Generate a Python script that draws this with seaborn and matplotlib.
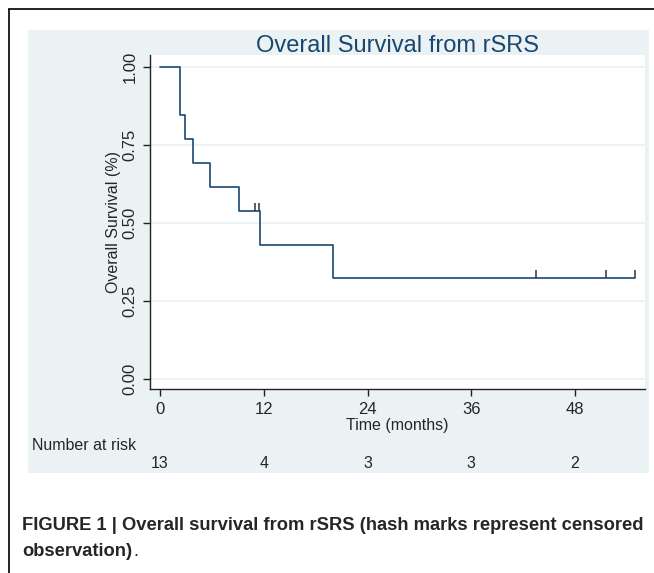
import matplotlib
matplotlib.use('Agg')
import matplotlib.pyplot as plt
import matplotlib.patches as mpatches
import seaborn as sns
import pandas as pd

# Kaplan-Meier steps
step_times = [0, 2.3, 2.9, 3.8, 5.8, 9.1, 11.6, 20.0, 54.9]
step_surv = [1.0, 0.846, 0.769, 0.692, 0.615, 0.538, 0.431, 0.323, 0.323]
censor_times = [10.95, 11.4, 43.5, 51.6, 54.9]
censor_surv = [0.538, 0.538, 0.323, 0.323, 0.323]
risk_times = [0, 12, 24, 36, 48]
at_risk = [13, 4, 3, 3, 2]
y_ticks = [0.0, 0.25, 0.5, 0.75, 1.0]
y_labels = ['0.00', '0.25', '0.50', '0.75', '1.00']

NAVY = '#1a476f'
PANEL = '#eaf2f3'

sns.set_style('white')
plt.rcParams['font.family'] = ['Liberation Sans', 'DejaVu Sans']

W, H = 654, 573
fig = plt.figure(figsize=(W / 100, H / 100), dpi=100)

def fx(px):
    return px / W

def fy(py):
    return 1 - py / H

# outer border (left and top lines) and light panel
fig.add_artist(plt.Line2D([fx(9), fx(9)], [fy(9), 0], color='black', lw=1.2))
fig.add_artist(plt.Line2D([fx(9), 1], [fy(9), fy(9)], color='black', lw=1.2))
fig.add_artist(mpatches.Rectangle((fx(27.5), fy(473)), fx(649) - fx(27.5), fy(30) - fy(473),
                                  facecolor=PANEL, edgecolor='none', zorder=0))

ax = fig.add_axes([fx(150), fy(389), fx(645) - fx(150), fy(55) - fy(389)])
ax.set_facecolor('white')

df = pd.DataFrame({'time': step_times, 'surv': step_surv})
sns.lineplot(data=df, x='time', y='surv', drawstyle='steps-post', estimator=None,
             sort=False, color=NAVY, linewidth=1.2, ax=ax, zorder=3)
ax.plot(censor_times, censor_surv, linestyle='none', marker=2, markersize=6,
        markeredgewidth=1.1, color='#333333', zorder=4)

ax.set_xlim(-1.16, 56.1)
ax.set_ylim(-0.031, 1.038)
ax.set_xticks(risk_times)
ax.set_yticks(y_ticks)
ax.set_yticklabels(y_labels, rotation=90, va='center')
for y in y_ticks:
    ax.axhline(y, color=PANEL, lw=1.3, zorder=1)

for side in ['top', 'right']:
    ax.spines[side].set_visible(False)
for side in ['left', 'bottom']:
    ax.spines[side].set_color('#222222')
    ax.spines[side].set_linewidth(1.0)
ax.tick_params(axis='both', direction='out', length=5, width=1.0, color='#222222',
               labelsize=12, pad=4, left=True, bottom=True)

ax.set_xlabel('Time (months)', fontsize=11.5, labelpad=1)
ax.set_ylabel('Overall Survival (%)', fontsize=11.5, labelpad=1)
ax.set_title('Overall Survival from rSRS', fontsize=17, color=NAVY, pad=2)

fig.text(fx(32), fy(446), 'Number at risk', fontsize=11.5, ha='left', va='center')
for t, n in zip(risk_times, at_risk):
    fig.text(fx(160 + t * 8.646), fy(464), str(n), fontsize=11.5, ha='center', va='center')

fig.text(fx(22), fy(526), 'FIGURE 1 | Overall survival from rSRS (hash marks represent censored',
         fontsize=13.2, fontweight='bold', ha='left', va='center')
obs = fig.text(fx(22), fy(552), 'observation)', fontsize=13.2, fontweight='bold',
               ha='left', va='center')
fig.canvas.draw()
bb = obs.get_window_extent(renderer=fig.canvas.get_renderer())
fig.text(bb.x1 / W + fx(1), fy(552), '.', fontsize=13.2, ha='left', va='center')

fig.savefig('out.png', dpi=100)
